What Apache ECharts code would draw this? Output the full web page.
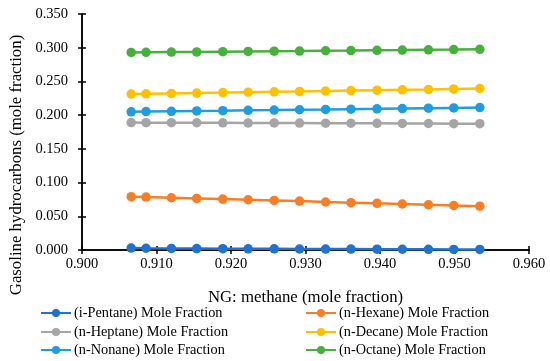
<!DOCTYPE html>
<html><head><meta charset="utf-8">
<script src="https://cdn.jsdelivr.net/npm/echarts@6/dist/echarts.min.js"></script>
<style>html,body{margin:0;padding:0;background:#fff}#c{width:550px;height:361px}</style>
</head><body><div id="c"></div>
<script>
var methane = [0.9066, 0.9086, 0.9120, 0.9154, 0.9189, 0.9223, 0.9258, 0.9292, 0.9327, 0.9361, 0.9396, 0.9430, 0.9465, 0.9499, 0.9534];
var iPentane = [0.0028, 0.0026, 0.0024, 0.0022, 0.0020, 0.0018, 0.0017, 0.0015, 0.0014, 0.0013, 0.0012, 0.0011, 0.0010, 0.0009, 0.0008];
var nHexane = [0.0790, 0.0785, 0.0775, 0.0765, 0.0755, 0.0745, 0.0735, 0.0725, 0.0712, 0.0702, 0.0692, 0.0682, 0.0671, 0.0660, 0.0650];
var nHeptane = [0.1890, 0.1889, 0.1888, 0.1887, 0.1886, 0.1885, 0.1884, 0.1883, 0.1881, 0.1880, 0.1879, 0.1877, 0.1876, 0.1874, 0.1873];
var nDecane = [0.2312, 0.2316, 0.2322, 0.2328, 0.2334, 0.2340, 0.2346, 0.2352, 0.2358, 0.2364, 0.2370, 0.2376, 0.2382, 0.2389, 0.2395];
var nNonane = [0.2050, 0.2053, 0.2057, 0.2062, 0.2066, 0.2071, 0.2075, 0.2080, 0.2084, 0.2089, 0.2093, 0.2098, 0.2103, 0.2107, 0.2112];
var nOctane = [0.2930, 0.2932, 0.2935, 0.2938, 0.2942, 0.2945, 0.2948, 0.2951, 0.2955, 0.2958, 0.2962, 0.2965, 0.2969, 0.2972, 0.2976];
var yTitle = 'Gasoline hydrocarbons (mole fraction)';
var xTitle = 'NG: methane (mole fraction)';

var seriesDefs = [
  {name: '(i-Pentane) Mole Fraction', data: iPentane, color: '#1f72cf'},
  {name: '(n-Hexane) Mole Fraction', data: nHexane, color: '#f97d24'},
  {name: '(n-Heptane) Mole Fraction', data: nHeptane, color: '#a5a5a5'},
  {name: '(n-Decane) Mole Fraction', data: nDecane, color: '#ffc000'},
  {name: '(n-Nonane) Mole Fraction', data: nNonane, color: '#1f9de0'},
  {name: '(n-Octane) Mole Fraction', data: nOctane, color: '#45b13a'}
];
var legendPos = [[40, 306], [305, 306], [40, 325], [305, 325], [40, 343], [305, 343]];

var font = 'Liberation Serif, DejaVu Serif, serif';
var chart = echarts.init(document.getElementById('c'));
var axisLine = {show: true, onZero: false, lineStyle: {color: '#000', width: 1.5}};
chart.setOption({
  animation: false,
  textStyle: {fontFamily: font},
  grid: {left: 82, right: 21, top: 14, bottom: 111, containLabel: false},
  graphic: [{
    type: 'text', x: 17, y: 165, rotation: Math.PI / 2,
    style: {text: yTitle, fill: '#000', font: '16.8px ' + font, align: 'center', verticalAlign: 'middle'}
  }],
  xAxis: [{
    type: 'value', min: 0.9, max: 0.96, interval: 0.01,
    axisLine: axisLine,
    axisTick: {show: true, inside: false, length: 4, lineStyle: {color: '#000', width: 1.5}},
    splitLine: {show: false},
    axisLabel: {color: '#000', fontSize: 14.5, fontFamily: font, margin: 7, formatter: function(v){return v.toFixed(3);}},
    name: xTitle, nameLocation: 'middle', nameGap: 39,
    nameTextStyle: {color: '#000', fontSize: 16.8, fontFamily: font}
  }, {
    type: 'value', min: 0.9, max: 0.96, interval: 0.01, position: 'bottom',
    axisLine: axisLine,
    axisTick: {show: true, inside: true, length: 4, lineStyle: {color: '#000', width: 1.5}},
    splitLine: {show: false}, axisLabel: {show: false}
  }],
  yAxis: [{
    type: 'value', min: 0, max: 0.35, interval: 0.05,
    axisLine: axisLine,
    axisTick: {show: true, inside: false, length: 4, lineStyle: {color: '#000', width: 1.5}},
    splitLine: {show: false},
    axisLabel: {color: '#000', fontSize: 14.5, fontFamily: font, margin: 14, formatter: function(v){return v.toFixed(3);}}
  }, {
    type: 'value', min: 0, max: 0.35, interval: 0.05, position: 'left',
    axisLine: axisLine,
    axisTick: {show: true, inside: true, length: 4, lineStyle: {color: '#000', width: 1.5}},
    splitLine: {show: false}, axisLabel: {show: false}
  }],
  legend: seriesDefs.map(function(s, i){
    return {
      left: legendPos[i][0], top: legendPos[i][1], padding: 0,
      itemWidth: 30, itemHeight: 10, itemGap: 0,
      data: [s.name],
      textStyle: {color: '#000', fontSize: 14.3, fontFamily: font, padding: [0, 0, 0, -2]}
    };
  }),
  series: seriesDefs.map(function(s){
    return {
      name: s.name, type: 'line',
      data: methane.map(function(x, i){return [x, s.data[i]];}),
      symbol: 'circle', symbolSize: 9.5, showSymbol: true,
      lineStyle: {color: s.color, width: 2.5},
      itemStyle: {color: s.color},
      z: 3
    };
  })
});
</script></body></html>
